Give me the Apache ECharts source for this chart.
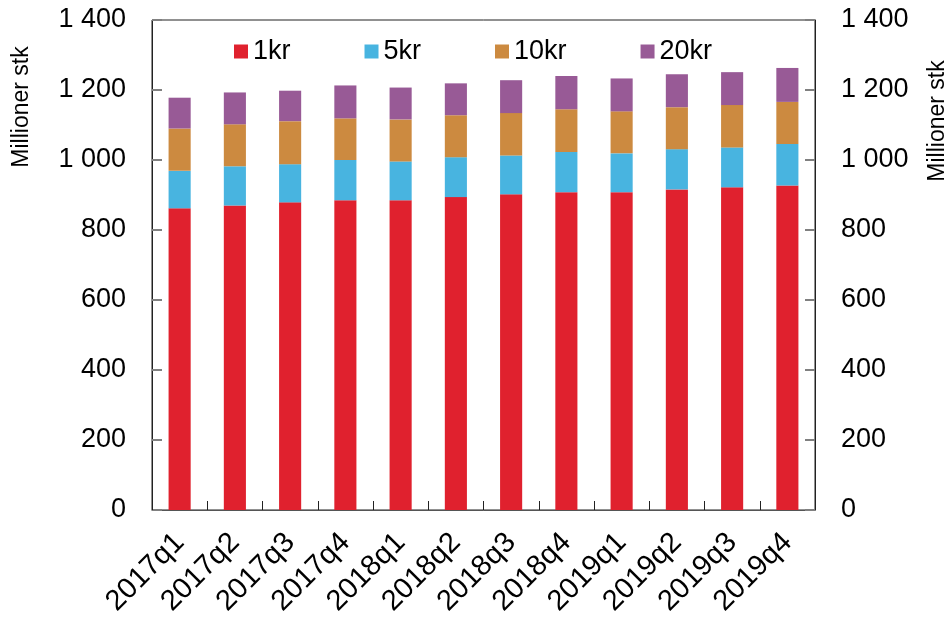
<!DOCTYPE html>
<html>
<head>
<meta charset="utf-8">
<script src="https://cdn.jsdelivr.net/npm/echarts@6/dist/echarts.min.js"></script>
<style>
    html, body { margin: 0; padding: 0; background: #fff; }
    #main { width: 952px; height: 621px; }
</style>
</head>
<body>
<div id="main"></div>
<script>
// kvartaler
var categories = ['2017q1', '2017q2', '2017q3', '2017q4', '2018q1', '2018q2', '2018q3', '2018q4', '2019q1', '2019q2', '2019q3', '2019q4'];
// millioner stk per mynt (stablet)
var kr1 = [862, 870, 879, 885, 885, 894, 902, 908, 908, 916, 922, 927];
var kr5 = [107, 112, 109, 115, 111, 114, 111, 115, 111, 115, 114, 119];
var kr10 = [121, 120, 123, 119, 120, 120, 121, 122, 120, 120, 121, 120];
var kr20 = [88, 91, 87, 94, 91, 91, 94, 95, 94, 94, 94, 97];
var yTicks = [0, 200, 400, 600, 800, 1000, 1200, 1400];

var font = 'Liberation Sans, Arial, sans-serif';

function fmt(v) {
    return String(v).replace(/\B(?=(\d{3})+(?!\d))/g, ' ');
}

var chart = echarts.init(document.getElementById('main'));

var yAxisBase = {
    type: 'value',
    min: yTicks[0],
    max: yTicks[yTicks.length - 1],
    interval: 200,
    splitLine: { show: false },
    axisLine: { show: true, lineStyle: { color: '#222', width: 1 } },
    axisTick: { show: true, inside: true, length: 10, lineStyle: { color: '#808080', width: 2 } },
    axisLabel: {
        color: '#000',
        fontFamily: font,
        fontSize: 27,
        margin: 26,
        formatter: fmt
    }
};

var option = {
    animation: false,
    backgroundColor: '#fff',
    grid: { left: 152, right: 137, top: 20, bottom: 111, show: true, borderColor: '#222', borderWidth: 1 },
    color: ['#e0212e', '#48b4e0', '#cc8a40', '#985a96'],
    legend: {
        left: 229,
        top: 33,
        itemWidth: 14,
        itemHeight: 14,
        itemGap: 74,
        icon: 'rect',
        textStyle: { fontFamily: font, fontSize: 27, color: '#000', padding: [0, 0, 0, 0] },
        data: ['1kr', '5kr', '10kr', '20kr']
    },
    xAxis: {
        type: 'category',
        data: categories,
        axisLine: { show: true, lineStyle: { color: '#555', width: 1 } },
        axisTick: { show: true, inside: true, length: 9, lineStyle: { color: '#222' } },
        axisLabel: {
            color: '#000',
            fontFamily: font,
            fontSize: 29,
            rotate: 45,
            margin: 28,
            interval: 0
        }
    },
    yAxis: [
        Object.assign({}, yAxisBase, { position: 'left' }),
        Object.assign({}, yAxisBase, { position: 'right' })
    ],
    graphic: [
        {
            type: 'text',
            x: 22, y: 107,
            rotation: Math.PI / 2,
            style: { text: 'Millioner stk', fontFamily: font, fontSize: 23, fill: '#000', align: 'center', verticalAlign: 'middle' }
        },
        {
            type: 'text',
            x: 938, y: 121,
            rotation: Math.PI / 2,
            style: { text: 'Millioner stk', fontFamily: font, fontSize: 23, fill: '#000', align: 'center', verticalAlign: 'middle' }
        }
    ],
    series: [
        { name: '1kr', type: 'bar', stack: 'total', barWidth: '40%', data: kr1 },
        { name: '5kr', type: 'bar', stack: 'total', data: kr5 },
        { name: '10kr', type: 'bar', stack: 'total', data: kr10 },
        { name: '20kr', type: 'bar', stack: 'total', data: kr20 }
    ]
};

option && chart.setOption(option);
</script>
</body>
</html>
